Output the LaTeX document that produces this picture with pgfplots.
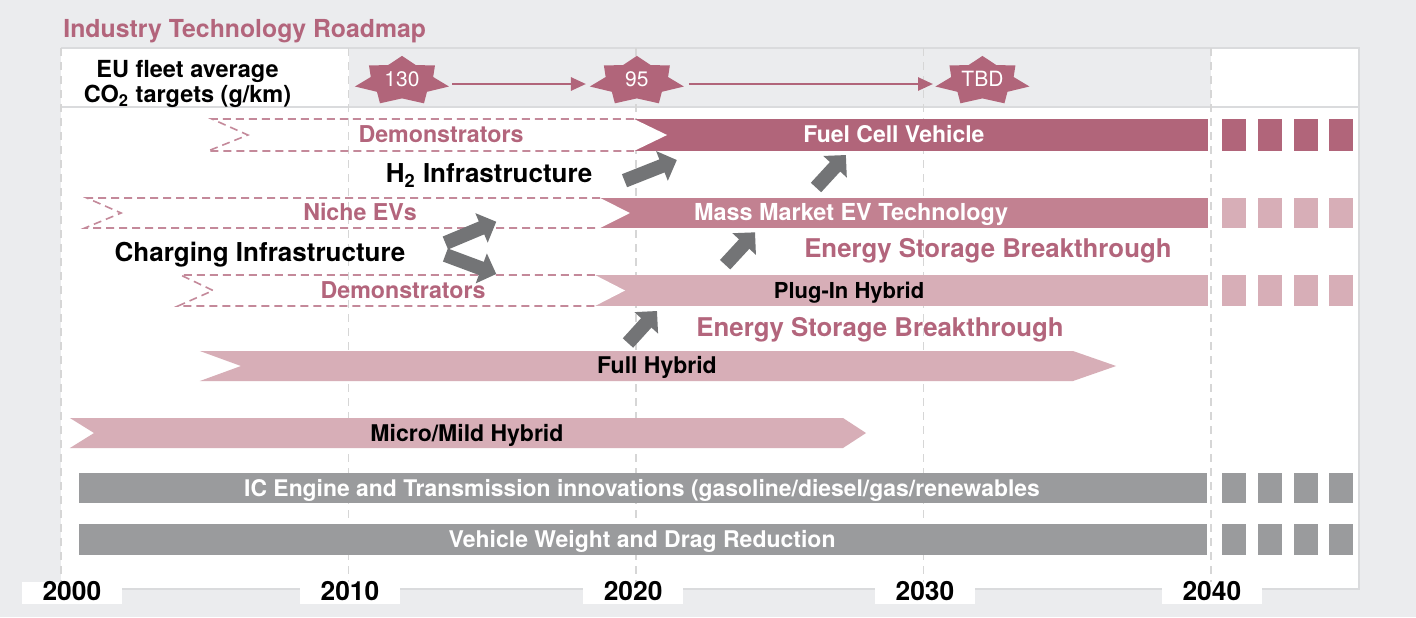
\documentclass[border=0pt]{standalone}
\usepackage{fontspec}
\setmainfont{TeX Gyre Heros}
\usepackage{pgfplots}
\pgfplotsset{compat=1.18}
\usetikzlibrary{arrows.meta}
\definecolor{bgc}{HTML}{EBECEE}
\definecolor{mauveDark}{HTML}{B1657A}
\definecolor{mauveMid}{HTML}{C28191}
\definecolor{mauveLight}{HTML}{D7AEB7}
\definecolor{textMauve}{HTML}{B3657C}
\definecolor{dashMauve}{HTML}{C4899A}
\definecolor{grayBar}{HTML}{9A9B9D}
\definecolor{arrowGray}{HTML}{737476}
\definecolor{gridc}{HTML}{D6D6D6}
\definecolor{borderc}{HTML}{DADBDD}

% seven-pointed star, stretched horizontally
\pgfdeclareplotmark{star7}{%
 \pgfpathmoveto{\pgfqpoint{0pt}{12.5pt}}%
 \pgfpathlineto{\pgfqpoint{6.95pt}{7.9pt}}%
 \pgfpathlineto{\pgfqpoint{16.5pt}{7.75pt}}%
 \pgfpathlineto{\pgfqpoint{15.6pt}{1.95pt}}%
 \pgfpathlineto{\pgfqpoint{23.5pt}{-2.8pt}}%
 \pgfpathlineto{\pgfqpoint{12.5pt}{-5.45pt}}%
 \pgfpathlineto{\pgfqpoint{11pt}{-11.2pt}}%
 \pgfpathlineto{\pgfqpoint{0pt}{-8.75pt}}%
 \pgfpathlineto{\pgfqpoint{-11pt}{-11.2pt}}%
 \pgfpathlineto{\pgfqpoint{-12.5pt}{-5.45pt}}%
 \pgfpathlineto{\pgfqpoint{-23.5pt}{-2.8pt}}%
 \pgfpathlineto{\pgfqpoint{-15.6pt}{1.95pt}}%
 \pgfpathlineto{\pgfqpoint{-16.5pt}{7.75pt}}%
 \pgfpathlineto{\pgfqpoint{-6.95pt}{7.9pt}}%
 \pgfpathclose
 \pgfusepathqfill}

% rectangle: colour, x from, x to, y top, y bottom
\newcommand{\rect}[5]{\addplot[fill=#1,draw=none] coordinates {(#2,#4) (#3,#4) (#3,#5) (#2,#5)};}
\newcommand{\squares}[3]{%
  \rect{#1}{2040.38}{2041.22}{#2}{#3}
  \rect{#1}{2041.63}{2042.47}{#2}{#3}
  \rect{#1}{2042.89}{2043.72}{#2}{#3}
  \rect{#1}{2044.10}{2044.94}{#2}{#3}}
\newcommand{\grid}[1]{\addplot[gridc, line width=0.8pt, dash pattern=on 4pt off 3pt] coordinates {(#1,48) (#1,589)};}

\tikzset{lbl/.style={inner sep=0pt, text height=0.72em, text depth=0pt, anchor=center}}
\newcommand{\fs}[1]{\fontsize{#1}{#1}\selectfont}

\begin{document}
\begin{tikzpicture}
\begin{axis}[
  width=708pt, height=308.5pt, scale only axis,
  xmin=1997.8783, xmax=2047.1304,
  ymin=0, ymax=617, y dir=reverse,
  hide axis, clip=false, clip marker paths=true,
]
% background and panel
\addplot[fill=bgc, draw=none] coordinates {(1997.8783,0) (2047.1304,0) (2047.1304,617) (1997.8783,617)};
\addplot[fill=white, draw=borderc, line width=1pt] coordinates {(2000,47.5) (2045.15,47.5) (2045.15,589) (2000,589)};
\rect{bgc}{2010}{2040}{48.5}{106}
\addplot[borderc, line width=1.3pt] coordinates {(2000,107) (2045.15,107)};
% grid lines
\grid{2000}\grid{2010}\grid{2020}\grid{2030}\grid{2040}

% header: CO2 targets
\addplot[mauveDark, line width=1.3pt, -{Triangle[length=7.5pt,width=6.5pt]}] coordinates {(2013.60,84) (2018.26,84)};
\addplot[mauveDark, line width=1.3pt, -{Triangle[length=7.5pt,width=6.5pt]}] coordinates {(2021.84,84) (2030.33,84)};
\addplot[only marks, mark=star7, color=mauveDark] coordinates {(2011.86,80.9) (2020.03,80.9) (2032.05,80.9)};

% Fuel cell row
\rect{mauveDark}{2019.93}{2039.90}{119}{151}
\addplot[fill=white, draw=none] coordinates {(2019.93,119) (2021.08,135) (2019.93,151)};
\addplot[dashMauve, line width=0.8pt, dash pattern=on 4pt off 2.5pt] coordinates {(2019.93,119) (2005.25,119) (2006.50,135) (2005.11,151) (2019.93,151)};
\squares{mauveDark}{119}{151}

% Mass market EV row
\rect{mauveMid}{2018.75}{2039.90}{198}{228}
\addplot[fill=white, draw=none] coordinates {(2018.75,198) (2019.79,213) (2018.75,228)};
\addplot[dashMauve, line width=0.8pt, dash pattern=on 4pt off 2.5pt] coordinates {(2018.75,198) (2000.90,198) (2002.09,213) (2000.83,228) (2018.75,228)};
\squares{mauveLight}{198}{228}

% Plug-in hybrid row
\rect{mauveLight}{2018.57}{2039.90}{275}{306}
\addplot[fill=white, draw=none] coordinates {(2018.57,275) (2019.62,290.5) (2018.57,306)};
\addplot[dashMauve, line width=0.8pt, dash pattern=on 4pt off 2.5pt] coordinates {(2018.57,275) (2004.16,275) (2005.29,290.5) (2004.07,306) (2018.57,306)};
\squares{mauveLight}{275}{306}

% Full hybrid
\addplot[fill=mauveLight, draw=none] coordinates {(2004.83,351) (2035.20,351) (2036.70,366) (2035.20,381) (2004.83,381) (2006.26,366)};
% Micro/Mild hybrid
\addplot[fill=mauveLight, draw=none] coordinates {(2000.31,418) (2027.20,418) (2028.00,433) (2027.20,448) (2000.31,448) (2001.15,433)};

% IC engine and vehicle weight
\rect{grayBar}{2000.63}{2039.86}{473}{503}
\squares{grayBar}{473}{503}
\rect{grayBar}{2000.63}{2039.86}{524}{555}
\squares{grayBar}{524}{555}

% gray transition arrows
\addplot[arrowGray, line width=7pt, -{Triangle[length=8pt,width=15.5pt]}] coordinates {(2019.60,180.7) (2021.42,160)};
\addplot[arrowGray, line width=7pt, -{Triangle[length=8pt,width=15.5pt]}] coordinates {(2026.26,187.5) (2027.30,155)};
\addplot[arrowGray, line width=7pt, -{Triangle[length=8pt,width=15.5pt]}] coordinates {(2013.37,243) (2015.14,221.7)};
\addplot[arrowGray, line width=7pt, -{Triangle[length=8pt,width=15.5pt]}] coordinates {(2013.37,255) (2015.14,274)};
\addplot[arrowGray, line width=7pt, -{Triangle[length=8pt,width=15.5pt]}] coordinates {(2023.10,264.7) (2024.14,232.3)};
\addplot[arrowGray, line width=7pt, -{Triangle[length=8pt,width=15.5pt]}] coordinates {(2019.72,343) (2020.73,311)};

% texts
\node[lbl, anchor=west, text=textMauve, font=\bfseries\fs{12.4}] at (axis cs:2000.07,30) {Industry Technology Roadmap};
\node[align=center, inner sep=0pt, font=\bfseries\fontsize{11.75}{12.5}\selectfont] at (axis cs:2004.40,84) {EU fleet average\\CO\textsubscript{2} targets (g/km)};
\node[lbl, text=white, font=\fs{10.5}] at (axis cs:2011.86,79) {130};
\node[lbl, text=white, font=\fs{10.5}] at (axis cs:2020.03,79) {95};
\node[lbl, text=white, font=\fs{10.5}] at (axis cs:2032.05,79) {TBD};

\node[lbl, text=textMauve, font=\bfseries\fs{11.6}] at (axis cs:2013.22,135) {Demonstrators};
\node[lbl, text=white, font=\bfseries\fs{11.5}] at (axis cs:2028.97,135) {Fuel Cell Vehicle};
\node[lbl, font=\bfseries\fs{13}] at (axis cs:2014.89,175) {H\textsubscript{2} Infrastructure};
\node[lbl, text=textMauve, font=\bfseries\fs{11.6}] at (axis cs:2010.40,213) {Niche EVs};
\node[lbl, text=white, font=\bfseries\fs{11.7}] at (axis cs:2027.48,213) {Mass Market EV Technology};
\node[lbl, font=\bfseries\fs{13}] at (axis cs:2006.92,254) {Charging Infrastructure};
\node[lbl, text=textMauve, font=\bfseries\fs{12.9}] at (axis cs:2032.24,250) {Energy Storage Breakthrough};
\node[lbl, text=textMauve, font=\bfseries\fs{11.6}] at (axis cs:2011.90,291) {Demonstrators};
\node[lbl, font=\bfseries\fs{11}] at (axis cs:2027.41,291) {Plug-In Hybrid};
\node[lbl, text=textMauve, font=\bfseries\fs{12.9}] at (axis cs:2028.49,329) {Energy Storage Breakthrough};
\node[lbl, font=\bfseries\fs{11.5}] at (axis cs:2020.73,366) {Full Hybrid};
\node[lbl, font=\bfseries\fs{11.5}] at (axis cs:2014.12,434) {Micro/Mild Hybrid};
\node[lbl, text=white, font=\bfseries\fs{11.45}] at (axis cs:2020.21,489) {IC Engine and Transmission innovations (gasoline/diesel/gas/renewables};
\node[lbl, text=white, font=\bfseries\fs{11.5}] at (axis cs:2020.21,540) {Vehicle Weight and Drag Reduction};

% year labels
\node[lbl, fill=white, minimum width=50pt, minimum height=11pt, font=\bfseries\fs{13.2}] at (axis cs:2000.38,593) {2000};
\node[lbl, fill=white, minimum width=50pt, minimum height=11pt, font=\bfseries\fs{13.2}] at (axis cs:2010.05,593) {2010};
\node[lbl, fill=white, minimum width=50pt, minimum height=11pt, font=\bfseries\fs{13.2}] at (axis cs:2019.90,593) {2020};
\node[lbl, fill=white, minimum width=50pt, minimum height=11pt, font=\bfseries\fs{13.2}] at (axis cs:2030.05,593) {2030};
\node[lbl, fill=white, minimum width=50pt, minimum height=11pt, font=\bfseries\fs{13.2}] at (axis cs:2040.03,593) {2040};
\end{axis}
\end{tikzpicture}
\end{document}
